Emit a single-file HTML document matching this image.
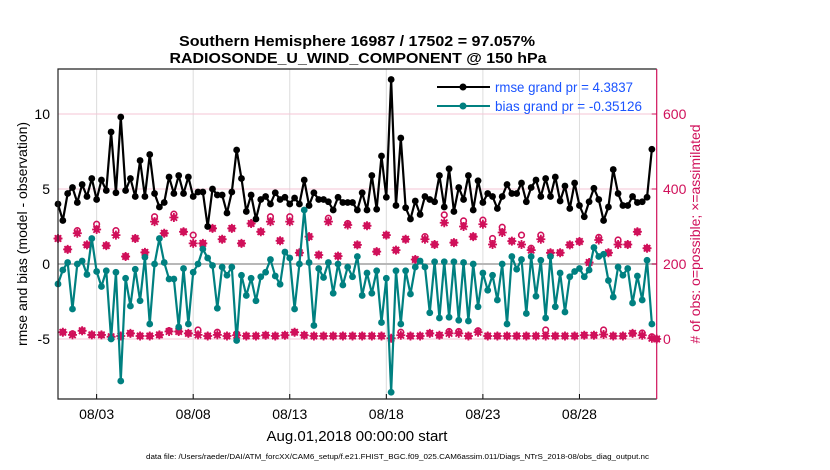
<!DOCTYPE html>
<html><head><meta charset="utf-8"><style>
html,body{margin:0;padding:0;background:#fff;}
svg{display:block;font-family:"Liberation Sans",Arial,sans-serif;}
</style></head><body>
<svg id="chart" width="830" height="470" viewBox="0 0 830 470">
<text x="357" y="46" text-anchor="middle" font-size="15" font-weight="bold" textLength="356" lengthAdjust="spacingAndGlyphs">Southern Hemisphere 16987 / 17502 = 97.057%</text>
<text x="358" y="63" text-anchor="middle" font-size="15" font-weight="bold" textLength="377" lengthAdjust="spacingAndGlyphs">RADIOSONDE_U_WIND_COMPONENT @ 150 hPa</text>
<g id="grid"></g>
<g id="obs"></g>
<g id="series"></g>
<g id="axes"></g>
<g>
  <line x1="437" y1="87" x2="490" y2="87" stroke="#000" stroke-width="2"/>
  <circle cx="463" cy="87" r="3.5" fill="#000"/>
  <text x="495" y="92" font-size="14" fill="#1a53ff" textLength="138" lengthAdjust="spacingAndGlyphs">rmse grand pr = 4.3837</text>
  <line x1="437" y1="106" x2="490" y2="106" stroke="#008080" stroke-width="2"/>
  <circle cx="463" cy="106" r="3.5" fill="#008080"/>
  <text x="495" y="111" font-size="14" fill="#1a53ff" textLength="147" lengthAdjust="spacingAndGlyphs">bias grand pr = -0.35126</text>
</g>
<text transform="translate(27,234) rotate(-90)" text-anchor="middle" font-size="14">rmse and bias (model - observation)</text>
<text transform="translate(700,234) rotate(-90)" text-anchor="middle" font-size="14" fill="#d0105a"># of obs: o=possible; ×=assimilated</text>
<text x="357" y="441" text-anchor="middle" font-size="15">Aug.01,2018 00:00:00 start</text>
<text x="146" y="459" font-size="7" textLength="503" lengthAdjust="spacingAndGlyphs">data file: /Users/raeder/DAI/ATM_forcXX/CAM6_setup/f.e21.FHIST_BGC.f09_025.CAM6assim.011/Diags_NTrS_2018-08/obs_diag_output.nc</text>
</svg>
<script>
const rmse = [4.0,2.9,4.7,5.1,4.1,5.3,4.5,5.7,4.3,5.6,4.9,8.8,4.75,9.8,4.9,5.7,4.5,6.9,4.5,7.3,4.7,3.8,4.1,5.8,4.7,5.9,4.7,5.8,4.5,4.8,4.8,2.5,5.0,4.6,4.6,3.4,4.8,7.6,5.7,3.5,4.6,3.0,4.3,4.5,4.0,4.75,4.3,4.45,4.0,4.4,4.0,5.6,3.9,4.75,4.3,4.3,4.15,3.6,4.45,
4.1,4.1,4.1,3.6,4.75,3.6,5.9,3.65,7.2,4.45,12.3,3.9,8.4,3.75,3.0,4.2,3.3,4.5,4.3,4.15,5.9,3.8,6.35,3.5,5.1,4.3,5.9,3.6,5.55,4.1,4.7,4.5,3.7,4.5,5.3,4.7,4.7,5.4,4.15,5.1,5.6,4.5,5.7,4.5,5.8,4.2,5.2,3.7,5.4,3.9,3.15,4.15,5.05,4.3,2.9,3.8,6.3,4.7,3.9,3.9,4.5,4.1,4.15,4.45,7.65];
const bias = [-1.33,-0.4,0.1,-3.0,0,0.2,-0.7,1.7,-0.5,-1.5,-0.45,-5.0,-0.55,-7.8,-0.95,-2.8,-0.35,-2.45,0.45,-4.0,0,1.7,0.1,-1.0,-1.0,-4.2,-0.3,-4.0,-0.55,0,1.0,0.4,-0.1,-2.95,-0.2,-0.75,-0.2,-5.1,-0.75,-2.1,-0.95,-2.45,-0.85,-0.55,0.3,-0.8,-1.35,0.8,0.4,-3.0,0,3.6,0.1,-4.1,-0.3,-0.9,0.1,-1.95,0,
-1.4,-0.2,-0.85,0.5,-2.1,-0.6,-1.95,-0.45,-3.9,-0.95,-8.55,-0.45,-4.0,-0.45,-2.0,-0.2,0.2,-0.2,-3.25,0.15,-3.6,0.15,-3.55,0.15,-3.75,0.1,-3.8,0,-2.85,-0.6,-1.75,-0.75,-2.4,0,-4.0,0.5,-0.35,0.3,-3.3,0.5,-2.15,0.25,-3.6,0.5,-2.85,-0.6,-3.2,-0.85,-0.5,-0.3,-0.85,-0.4,1.1,0.5,0.65,-1.1,-2.2,-0.2,-0.75,-0.3,-2.6,-0.8,-2.4,0.25,-4.0];
const assimilated = [268,18,239,11,282,22,251,11,292,11,249,6,277,8,220,15,268,8,231,8,313,11,282,20,324,20,286,15,255,11,255,8,295,11,266,8,295,10,255,8,308,8,286,10,313,8,262,10,313,18,230,10,273,8,224,8,313,8,221,8,304,8,251,8,302,8,233,8,277,2,237,10,266,8,212,8,266,15,252,10,310,15,257,15,300,8,273,18,306,8,252,8,284,8,261,8,252,8,237,8,266,8,230,8,230,8,251,8,260,10,204,10,264,12,230,8,252,8,252,15,286,10,242,2,0];
const possible = [268,18,239,14,289,22,251,11,306,11,249,6,289,8,220,15,268,8,231,8,326,11,282,22,333,20,286,15,277,24,255,8,295,18,266,8,295,14,255,8,308,8,286,10,326,8,262,10,326,18,230,10,273,8,224,8,322,8,221,8,308,8,251,8,302,8,233,8,277,2,237,18,266,8,212,8,273,15,252,10,331,20,257,20,315,8,273,22,317,8,268,8,298,8,261,8,277,8,242,8,277,24,230,8,230,8,251,8,260,10,204,10,271,24,230,8,264,8,252,15,286,16,242,6,0];
const xTickLabels = ["08/03","08/08","08/13","08/18","08/23","08/28"];
const xTickDays = [2,7,12,17,22,27];
const leftTicks = [-5,0,5,10];
const rightTicks = [0,200,400,600];

const NS="http://www.w3.org/2000/svg";
const L=58,R=656.7,T=69,B=399, DMAX=31, YMIN=-9, YMAX=13;
const xs=d=>L+(d/DMAX)*(R-L);
const yl=v=>B-(v-YMIN)/(YMAX-YMIN)*(B-T);
const yr=c=>yl((c-200)/40);
function mk(tag,attrs,parent){const e=document.createElementNS(NS,tag);for(const k in attrs)e.setAttribute(k,attrs[k]);parent.appendChild(e);return e;}
const grid=document.getElementById('grid'),obs=document.getElementById('obs'),ser=document.getElementById('series'),ax=document.getElementById('axes');
const PINK="#d0105a";

xTickDays.forEach((d,i)=>{
  const g=mk('line',{x1:xs(d),x2:xs(d),y1:T,y2:B,stroke:'#dcdcdc','stroke-width':1},grid);
  
  
  const tk=mk('line',{x1:xs(d),x2:xs(d),y1:B,y2:B-5,stroke:'#000','stroke-width':1},ax);
  
  
  const t=mk('text',{x:xs(d),y:419,'text-anchor':'middle','font-size':14},ax);
  t.textContent=xTickLabels[i];
  
  
});
leftTicks.forEach(v=>{
  const g=mk('line',{x1:L,x2:R,y1:yl(v),y2:yl(v),stroke:v===0?'#b8b8b8':'#f4c6d6','stroke-width':v===0?2:1},grid);
  
  
  const t=mk('text',{x:50,y:yl(v)+5,'text-anchor':'end','font-size':14},ax);
  t.textContent=v;
  
  
});
rightTicks.forEach(c=>{
  const tk=mk('line',{x1:R,x2:R-5,y1:yr(c),y2:yr(c),stroke:PINK,'stroke-width':1},ax);
  
  
  const t=mk('text',{x:663,y:yr(c)+5,'font-size':14,fill:PINK},ax);
  t.textContent=c;
  
  
});
const frame=mk('path',{d:`M${R},${T} L${L},${T} L${L},${B} L${R},${B}`,fill:'none',stroke:'#222','stroke-width':1.2},ax);


const ra=mk('line',{x1:R,x2:R,y1:T,y2:B,stroke:PINK,'stroke-width':1.2},ax);



possible.forEach((c,i)=>{
  const x=xs(i*0.25), y=yr(c);
  const o=mk('circle',{cx:x,cy:y,r:2.8,fill:'none',stroke:PINK,'stroke-width':1.6},obs);
  
  
});
assimilated.forEach((c,i)=>{
  const x=xs(i*0.25), y=yr(c);
  const g=mk('g',{},obs);
  
  
  mk('path',{d:`M${x-4.5},${y} L${x+4.5},${y} M${x},${y-4.5} L${x},${y+4.5} M${x-3.2},${y-3.2} L${x+3.2},${y+3.2} M${x-3.2},${y+3.2} L${x+3.2},${y-3.2}`,stroke:PINK,'stroke-width':1.8},g);
  mk('circle',{cx:x,cy:y,r:3,fill:PINK},g);
});

function series(arr,color,name){
  const pts=arr.map((v,i)=>`${xs(i*0.25).toFixed(2)},${yl(v).toFixed(2)}`).join(' ');
  const pl=mk('polyline',{points:pts,fill:'none',stroke:color,'stroke-width':2.2,'stroke-linejoin':'round'},ser);
  
  
  arr.forEach((v,i)=>{
    const c=mk('circle',{cx:xs(i*0.25),cy:yl(v),r:3.4,fill:color},ser);
    
    
  });
}
series(bias,'#008080','bias');
series(rmse,'#000000','rmse');
</script>
</body></html>
